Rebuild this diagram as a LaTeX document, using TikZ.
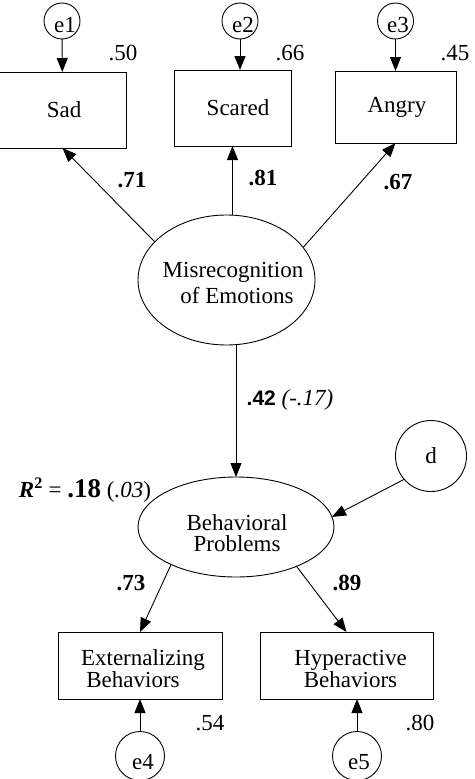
\documentclass[tikz,border=0pt]{standalone}
\usepackage{fontspec}
\setmainfont{Liberation Serif}
\newfontfamily\arialfont{Liberation Sans}
\usetikzlibrary{shapes.geometric,arrows.meta}
\newcommand\mainsz{\fontsize{23}{26}\selectfont}
\begin{document}
\begin{tikzpicture}[x=1pt,y=-1pt,
  every node/.style={inner sep=0pt, outer sep=0pt, font=\mainsz},
  box/.style={draw, line width=0.9pt, rectangle},
  latent/.style={draw, line width=0.9pt, ellipse},
  err/.style={draw, line width=0.9pt, circle},
  bnum/.style={font=\mainsz\bfseries},
  conn/.style={line width=0.9pt, -{Triangle[length=14pt,width=11pt]}}]
\useasboundingbox (0,0) rectangle (474,779);

% observed boxes
\node[box, minimum width=127pt, minimum height=76pt] (sad) at (62.5,110) {};
\node[box, minimum width=117pt, minimum height=76pt] (scared) at (232.5,108) {};
\node[box, minimum width=121pt, minimum height=72pt] (angry) at (395.5,107) {};
\node[box, minimum width=164pt, minimum height=67pt] (ext) at (140,665.5) {};
\node[box, minimum width=173pt, minimum height=67pt] (hyp) at (346.5,665.5) {};

% latent variables
\node[latent, minimum width=177pt, minimum height=130pt] (mis) at (226.5,280) {};
\node[latent, minimum width=196pt, minimum height=100pt] (beh) at (236,527) {};

% error terms
\node[err, minimum size=36pt] (e1) at (62,21) {};
\node[err, minimum size=36pt] (e2) at (240,21) {};
\node[err, minimum size=36pt] (e3) at (395.5,21) {};
\node[err, minimum size=49pt] (e4) at (140,756) {};
\node[err, minimum size=49pt] (e5) at (357,756) {};
\node[err, minimum size=71pt] (d) at (431,456) {d};

% texts
\node (sadT) at (64,110) {Sad};
\node (scaredT) at (238,108) {Scared};
\node (angryT) at (397,107) {Angry};
\node[align=center] (misT) at (233,283) {Misrecognition\\\hspace*{8pt}of Emotions};
\node[align=center, font=\fontsize{23}{21}\selectfont] (behT) at (237,533) {Behavioral\\Problems};
\node[align=center, font=\fontsize{23}{19}\selectfont] (extT) at (138,669) {\hspace*{10pt}Externalizing\\Behaviors\kern10pt};
\node[align=center, font=\fontsize{23}{19}\selectfont] (hypT) at (350.5,669) {Hyperactive\\Behaviors};
\node (e1T) at (65,25) {e1};
\node (e2T) at (243,25) {e2};
\node (e3T) at (398,25) {e3};
\node (e4T) at (143,762) {e4};
\node (e5T) at (359,762) {e5};

% connectors
\draw[conn] (e1) -- (sad);
\draw[conn] (e2.south) -- (e2.south |- scared.north);
\draw[conn] (e3) -- (angry);
\draw[conn] (mis.152) -- (sad.south);
\draw[conn] (scared.south |- mis.north) -- (scared.south);
\draw[conn] (mis.23) -- (angry.south);
\draw[conn] (beh.north |- mis.south) -- (beh.north);
\draw[conn] (d.221) -- (beh.6);
\draw[conn] (beh.210) -- (ext.north);
\draw[conn] (beh.-33) -- (hyp.north);
\draw[conn] (e4) -- (ext);
\draw[conn] (e5.north) -- (e5.north |- hyp.south);

% estimates
\node (r50) at (123,53) {.50};
\node (r66) at (290,53) {.66};
\node (r45) at (455,53) {.45};
\node[bnum] (l71) at (132,180) {.71};
\node[bnum] (l81) at (263,178) {.81};
\node[bnum] (l67) at (398,182) {.67};
\node (l42) at (290,400) {{\arialfont\fontsize{21}{21}\selectfont\bfseries .42} \textit{(-.17)}};
\node[anchor=west] (r2) at (19,490) {{\bfseries\itshape R}\textsuperscript{\bfseries 2} = {\fontsize{27}{27}\selectfont\bfseries .18} (\textit{.03})};
\node[bnum] (l73) at (131,583) {.73};
\node[bnum] (l89) at (347,583) {.89};
\node (r54) at (210,723) {.54};
\node (r80) at (420,723) {.80};
\end{tikzpicture}
\end{document}
